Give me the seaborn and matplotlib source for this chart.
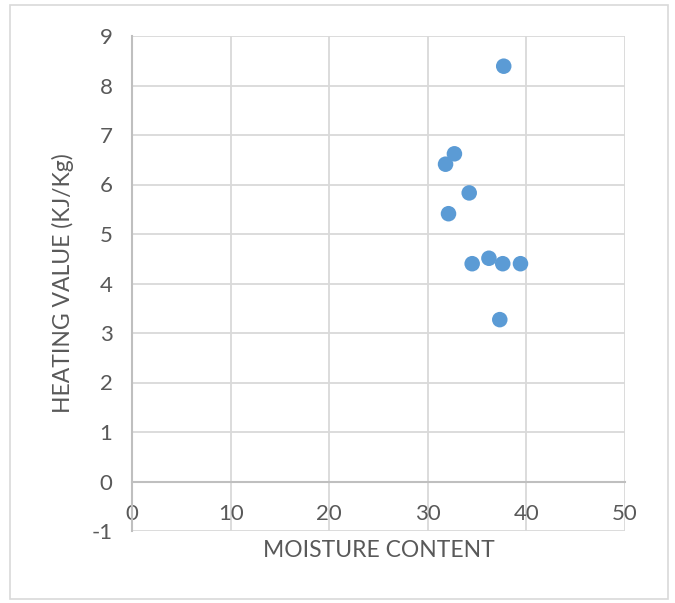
import matplotlib
matplotlib.use("Agg")
import matplotlib.pyplot as plt
import seaborn as sns
import pandas as pd
from matplotlib.patches import Rectangle

moisture = [37.7, 32.7, 31.8, 34.2, 32.1, 34.5, 36.2, 37.6, 39.4, 37.3]
heating = [8.39, 6.62, 6.41, 5.83, 5.41, 4.40, 4.51, 4.40, 4.40, 3.27]
x_ticks = [0, 10, 20, 30, 40, 50]
y_ticks = [-1, 0, 1, 2, 3, 4, 5, 6, 7, 8, 9]

df = pd.DataFrame({"MOISTURE CONTENT": moisture, "HEATING VALUE (KJ/Kg)": heating})

sns.set_style("white")
plt.rcParams["font.family"] = ["Lato", "DejaVu Sans"]
text_color = "#595959"

fig = plt.figure(figsize=(6.75, 6.03), dpi=100)
ax = fig.add_axes([132/675, 1-531/603, 493/675, 495/603])

sns.scatterplot(data=df, x="MOISTURE CONTENT", y="HEATING VALUE (KJ/Kg)", ax=ax,
                color="#5B9BD5", s=125, edgecolor="none", zorder=3)

ax.set_xlim(0, 50)
ax.set_ylim(-1, 9)
ax.set_xticks(x_ticks)
ax.set_yticks(y_ticks)
ax.set_xticklabels([str(v) for v in x_ticks])
ax.set_yticklabels([str(v) for v in y_ticks])
ax.grid(True, color="#D9D9D9", linewidth=1.3)
ax.set_axisbelow(True)

for s in ["top", "right"]:
    ax.spines[s].set_visible(False)
ax.spines["bottom"].set_position(("data", 0))
ax.spines["bottom"].set_color("#BFBFBF")
ax.spines["bottom"].set_linewidth(1.5)
ax.spines["left"].set_color("#BFBFBF")
ax.spines["left"].set_linewidth(1.5)

ax.tick_params(axis="both", length=0, labelsize=16, colors=text_color)
ax.tick_params(axis="y", pad=14)
ax.tick_params(axis="x", pad=16.5)

ax.set_xlabel("MOISTURE CONTENT", fontsize=16.5, color=text_color)
ax.set_ylabel("HEATING VALUE (KJ/Kg)", fontsize=16.5, color=text_color)
ax.xaxis.set_label_coords(0.5, -0.018)
ax.yaxis.set_label_coords(-0.118, 0.5)

fig.patches.append(Rectangle((10/675, 1-599/603), 658/675, 594/603, transform=fig.transFigure,
                             fill=False, edgecolor="#D9D9D9", linewidth=1.2))

fig.savefig("out.png", dpi=100)
